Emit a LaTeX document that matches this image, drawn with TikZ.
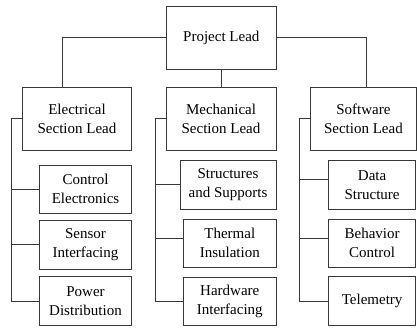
\documentclass[tikz,border=0pt]{standalone}
\usepackage{fontspec}
\setmainfont{Liberation Serif}
\begin{document}
\begin{tikzpicture}[x=1pt,y=-1pt,
  box/.style={draw=black!78, line width=0.9pt, align=center, inner sep=0pt,
    font=\fontsize{15}{19}\selectfont},
  conn/.style={draw=black!78, line width=0.9pt}]
\useasboundingbox (0,0) rectangle (417,329);
% top
\node[box, minimum width=109.3pt, minimum height=63pt] (pl) at (221.3,37.5) {Project Lead};
% section leads
\node[box, minimum width=109.4pt, minimum height=62.7pt] (el) at (77,118.7) {Electrical\\Section Lead};
\node[box, minimum width=110pt, minimum height=62.7pt] (me) at (221,118.7) {Mechanical\\Section Lead};
\node[box, minimum width=105.3pt, minimum height=62.7pt] (sw) at (363.4,118.7) {Software\\Section Lead};
% electrical children
\node[box, minimum width=92.4pt, minimum height=48.3pt] (ce) at (85.5,189.2) {Control\\Electronics};
\node[box, minimum width=92.4pt, minimum height=48.3pt] (si) at (85.5,244.8) {Sensor\\Interfacing};
\node[box, minimum width=92.4pt, minimum height=49pt] (pd) at (85.5,301.2) {Power\\Distribution};
% mechanical children
\node[box, minimum width=96pt, minimum height=48.3pt] (ss) at (228,184.8) {Structures\\and Supports};
\node[box, minimum width=92.3pt, minimum height=48.3pt] (ti) at (229.8,243.2) {Thermal\\Insulation};
\node[box, minimum width=92.3pt, minimum height=48.4pt] (hi) at (229.8,301.5) {Hardware\\Interfacing};
% software children
\node[box, minimum width=87.4pt, minimum height=48.3pt] (ds) at (372.1,184.8) {Data\\Structure};
\node[box, minimum width=87.4pt, minimum height=48.3pt] (bc) at (372.1,243.2) {Behavior\\Control};
\node[box, minimum width=87.4pt, minimum height=49pt] (te) at (372.1,301.2) {Telemetry};
% top connectors
\draw[conn] (pl.west) -| ([xshift=-15pt]el.north);
\draw[conn] (pl.east) -| ([xshift=2.6pt]sw.north);
\draw[conn] (pl.south) -- (pl.south |- me.north);
% vertical rails
\coordinate (ev) at (11.7,0);
\coordinate (mv) at (155,0);
\coordinate (sv) at (299,0);
% electrical
\draw[conn] (el.west) -- (el.west -| ev) -- (ev |- pd.west) -- (pd.west);
\draw[conn] (ce.west) -- (ce.west -| ev);
\draw[conn] (si.west) -- (si.west -| ev);
% mechanical
\draw[conn] (me.west) -- (me.west -| mv) -- (mv |- hi.west) -- (hi.west);
\draw[conn] (ss.west) -- (ss.west -| mv);
\draw[conn] ([yshift=5pt]ti.west) -- ([yshift=5pt]ti.west -| mv);
% software
\draw[conn] (sw.west) -- (sw.west -| sv) -- (sv |- te.west) -- (te.west);
\draw[conn] ([yshift=5.5pt]ds.west) -- ([yshift=5.5pt]ds.west -| sv);
\draw[conn] ([yshift=5pt]bc.west) -- ([yshift=5pt]bc.west -| sv);
\end{tikzpicture}
\end{document}
